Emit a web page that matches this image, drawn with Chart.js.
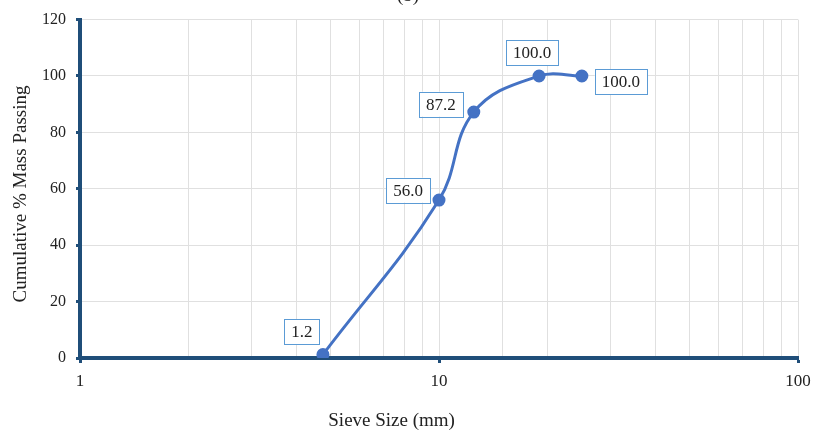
<!DOCTYPE html>
<html>
<head>
<meta charset="utf-8">
<script src="https://cdn.jsdelivr.net/npm/chart.js@4.4.1/dist/chart.umd.min.js"></script>
<style>
  html, body { margin: 0; padding: 0; background: #fff; }
  #wrap { width: 822px; height: 434px; }
</style>
</head>
<body>
<div id="wrap"><canvas id="grading"></canvas></div>
<script>
// sieve sizes (mm) and cumulative % passing
const sieveSizes = [4.75, 10, 12.5, 19, 25];
const percentPassing = [1.2, 56.0, 87.2, 100.0, 100.0];
const xTickLabels = [1, 10, 100];
const yTicks = [0, 20, 40, 60, 80, 100, 120];

const axisBlue = '#1f4e79';
const lineBlue = '#4472c4';
const serif = '"Liberation Serif", "Times New Roman", serif';

// where each value box sits relative to its point (px)
const boxOffsets = [[-21, -23], [-31, -10], [-33, -8], [-7, -23], [39, 6]];

const labelBoxes = {
  id: 'labelBoxes',
  afterDatasetsDraw(chart) {
    const ctx = chart.ctx;
    const meta = chart.getDatasetMeta(0);
    ctx.save();
    ctx.font = '17px ' + serif;
    ctx.textAlign = 'center';
    ctx.textBaseline = 'middle';
    meta.data.forEach((pt, i) => {
      const txt = percentPassing[i].toFixed(1);
      const w = ctx.measureText(txt).width + 14;
      const h = 25;
      const cx = pt.x + boxOffsets[i][0];
      const cy = pt.y + boxOffsets[i][1];
      ctx.fillStyle = '#fff';
      ctx.fillRect(cx - w / 2, cy - h / 2, w, h);
      ctx.strokeStyle = '#5b9bd5';
      ctx.lineWidth = 1;
      ctx.strokeRect(Math.round(cx - w / 2) + 0.5, Math.round(cy - h / 2) + 0.5, Math.round(w), h);
      ctx.fillStyle = '#222';
      ctx.fillText(txt, cx, cy + 1);
    });
    ctx.restore();
  },
  afterDraw(chart) {
    const ctx = chart.ctx;
    const a = chart.chartArea;
    ctx.save();
    ctx.fillStyle = '#222';
    ctx.textAlign = 'center';
    ctx.textBaseline = 'middle';
    ctx.font = '19px ' + serif;
    ctx.fillText('Sieve Size (mm)', a.left + (a.right - a.left) * 0.434, 421);
    ctx.save();
    ctx.translate(21, 194);
    ctx.rotate(-Math.PI / 2);
    ctx.fillText('Cumulative % Mass Passing', 0, 0);
    ctx.restore();
    ctx.textBaseline = 'alphabetic';
    ctx.fillText('(b)', 408, 1);
    ctx.restore();
  }
};

new Chart(document.getElementById('grading'), {
  type: 'line',
  data: {
    datasets: [{
      data: sieveSizes.map((s, i) => ({ x: s, y: percentPassing[i] })),
      borderColor: lineBlue,
      backgroundColor: lineBlue,
      borderWidth: 3,
      pointRadius: 5,
      pointHoverRadius: 5,
      tension: 0.4,
      fill: false
    }]
  },
  options: {
    responsive: true,
    maintainAspectRatio: false,
    animation: false,
    layout: { padding: { top: 16, right: 24, left: 0, bottom: 0 } },
    plugins: { legend: { display: false }, tooltip: { enabled: false } },
    scales: {
      x: {
        type: 'logarithmic',
        min: 1,
        max: 100,
        afterFit(scale) { scale.height = 76; },
        border: { color: axisBlue, width: 4 },
        grid: {
          color: '#e0e0e0',
          lineWidth: 1,
          tickLength: 5,
          tickWidth: 3,
          tickColor: (c) => (c.tick && xTickLabels.includes(c.tick.value)) ? axisBlue : 'rgba(0,0,0,0)'
        },
        ticks: {
          autoSkip: false,
          maxRotation: 0,
          padding: 8,
          color: '#222',
          font: { family: serif, size: 17 },
          callback: (v) => xTickLabels.includes(v) ? String(v) : ''
        }
      },
      y: {
        min: 0,
        max: 120,
        afterFit(scale) { scale.width = 80; },
        afterBuildTicks(scale) { scale.ticks = yTicks.map(v => ({ value: v })); },
        border: { color: axisBlue, width: 4 },
        grid: { color: '#e0e0e0', lineWidth: 1, tickLength: 4, tickWidth: 3, tickColor: axisBlue },
        ticks: { padding: 10, color: '#222', font: { family: serif, size: 16 } }
      }
    }
  },
  plugins: [labelBoxes]
});
</script>
</body>
</html>
